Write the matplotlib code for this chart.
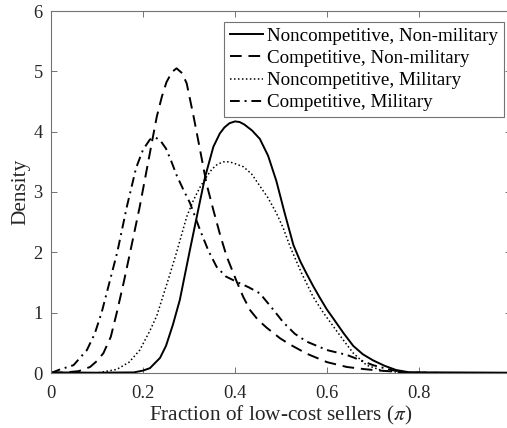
import matplotlib
matplotlib.use("Agg")
import matplotlib.pyplot as plt

plt.rcParams['font.family'] = ['Liberation Serif', 'DejaVu Serif']
plt.rcParams['mathtext.fontset'] = 'stix'

labels = ["Noncompetitive, Non-military", "Competitive, Non-military",
          "Noncompetitive, Military", "Competitive, Military"]

x_nc_nm = [0.0, 0.1, 0.18, 0.2, 0.215, 0.237, 0.25, 0.265, 0.28, 0.302, 0.324, 0.335, 0.353,
           0.367, 0.377, 0.388, 0.4, 0.41, 0.42, 0.437, 0.454, 0.472, 0.49, 0.508, 0.527,
           0.542, 0.556, 0.57, 0.585, 0.6, 0.614, 0.636, 0.657, 0.678, 0.7, 0.725, 0.75,
           0.78, 0.85, 1.0]
y_nc_nm = [0.01, 0.005, 0.01, 0.04, 0.08, 0.25, 0.45, 0.8, 1.21, 2.04, 2.85, 3.25, 3.75,
           3.97, 4.07, 4.14, 4.17, 4.16, 4.12, 4.02, 3.88, 3.6, 3.18, 2.65, 2.12,
           1.85, 1.64, 1.44, 1.24, 1.05, 0.9, 0.66, 0.45, 0.31, 0.21, 0.12, 0.05,
           0.01, 0.01, 0.005]

x_c_nm = [0.0, 0.03, 0.06, 0.085, 0.1, 0.114, 0.13, 0.143, 0.158, 0.172, 0.193, 0.221, 0.23,
          0.241, 0.251, 0.263, 0.273, 0.285, 0.295, 0.31, 0.324, 0.338, 0.353, 0.368, 0.382,
          0.404, 0.418, 0.433, 0.45, 0.469, 0.498, 0.52, 0.556, 0.6, 0.643, 0.68, 0.715,
          0.77, 0.85, 1.0]
y_c_nm = [0.0, 0.01, 0.03, 0.1, 0.2, 0.33, 0.6, 1.0, 1.5, 2.0, 2.76, 3.89, 4.25,
          4.58, 4.82, 4.99, 5.05, 4.97, 4.8, 4.25, 3.7, 3.14, 2.7, 2.28, 1.93,
          1.51, 1.26, 1.04, 0.88, 0.75, 0.575, 0.47, 0.32, 0.18, 0.1, 0.065, 0.04,
          0.01, 0.0, 0.0]

x_nc_m = [0.0, 0.1, 0.143, 0.17, 0.193, 0.215, 0.23, 0.257, 0.273, 0.295, 0.31, 0.324, 0.338,
          0.35, 0.362, 0.375, 0.388, 0.4, 0.418, 0.436, 0.454, 0.472, 0.49, 0.505, 0.52,
          0.545, 0.57, 0.592, 0.614, 0.636, 0.657, 0.686, 0.72, 0.76, 0.85, 1.0]
y_nc_m = [0.0, 0.0, 0.06, 0.18, 0.38, 0.7, 0.95, 1.6, 2.0, 2.59, 2.87, 3.08, 3.25,
          3.38, 3.46, 3.5, 3.5, 3.47, 3.42, 3.3, 3.1, 2.9, 2.65, 2.4, 2.09,
          1.65, 1.26, 1.0, 0.77, 0.54, 0.33, 0.13, 0.04, 0.01, 0.0, 0.0]

x_c_m = [0.0, 0.01, 0.02, 0.049, 0.078, 0.095, 0.11, 0.127, 0.144, 0.165, 0.185, 0.2, 0.215,
         0.228, 0.238, 0.25, 0.262, 0.273, 0.287, 0.302, 0.324, 0.342, 0.36, 0.38, 0.404,
         0.43, 0.454, 0.48, 0.505, 0.53, 0.556, 0.6, 0.643, 0.67, 0.7, 0.74, 0.77, 0.85, 1.0]
y_c_m = [0.0, 0.03, 0.06, 0.13, 0.38, 0.65, 1.0, 1.5, 2.0, 2.76, 3.4, 3.7, 3.87,
         3.9, 3.85, 3.72, 3.5, 3.28, 3.05, 2.82, 2.37, 2.03, 1.76, 1.6, 1.51,
         1.42, 1.32, 1.08, 0.84, 0.65, 0.52, 0.38, 0.3, 0.22, 0.13, 0.05, 0.01, 0.0, 0.0]

xticks = [0, 0.2, 0.4, 0.6, 0.8]
xticklabels = ["0", "0.2", "0.4", "0.6", "0.8"]
yticks = [0, 1, 2, 3, 4, 5, 6]

fig = plt.figure(figsize=(5.07, 4.28), dpi=100)
ax = fig.add_axes([51/507, 55/428, 460/507, 362/428])

lw = 1.4
ax.plot(x_nc_nm, y_nc_nm, color='black', lw=lw, ls='-', label=labels[0])
ax.plot(x_c_nm, y_c_nm, color='black', lw=lw, ls=(0, (6, 3.5)), label=labels[1])
ax.plot(x_nc_m, y_nc_m, color='black', lw=1.1, ls=(0, (1, 1.6)), label=labels[2])
ax.plot(x_c_m, y_c_m, color='black', lw=lw, ls=(0, (5, 2.5, 1, 2.5)), label=labels[3])

ax.set_xlim(0, 1)
ax.set_ylim(0, 6)
ax.set_xticks(xticks)
ax.set_xticklabels(xticklabels)
ax.set_yticks(yticks)
ax.tick_params(direction='in', top=True, right=True, length=4, width=0.7,
               color='0.45', labelsize=13.3, labelcolor='#262626')
ax.tick_params(axis='x', pad=9)
ax.tick_params(axis='y', pad=6)
for s in ax.spines.values():
    s.set_color('0.45')
    s.set_linewidth(0.8)

ax.set_xlabel(r"Fraction of low-cost sellers ($\pi$)", fontsize=15.3, color='#262626', labelpad=1)
ax.set_ylabel("Density", fontsize=15.3, color='#262626', labelpad=2)

leg = ax.legend(loc='upper right', bbox_to_anchor=((504-51)/460, (373-22)/362),
                borderaxespad=0, fontsize=13.7, fancybox=False, framealpha=1,
                edgecolor='0.45', handlelength=1.75, handletextpad=0.2,
                borderpad=0.3, labelspacing=0.25)
leg.get_frame().set_linewidth(0.8)

fig.savefig("out.png", dpi=100)
